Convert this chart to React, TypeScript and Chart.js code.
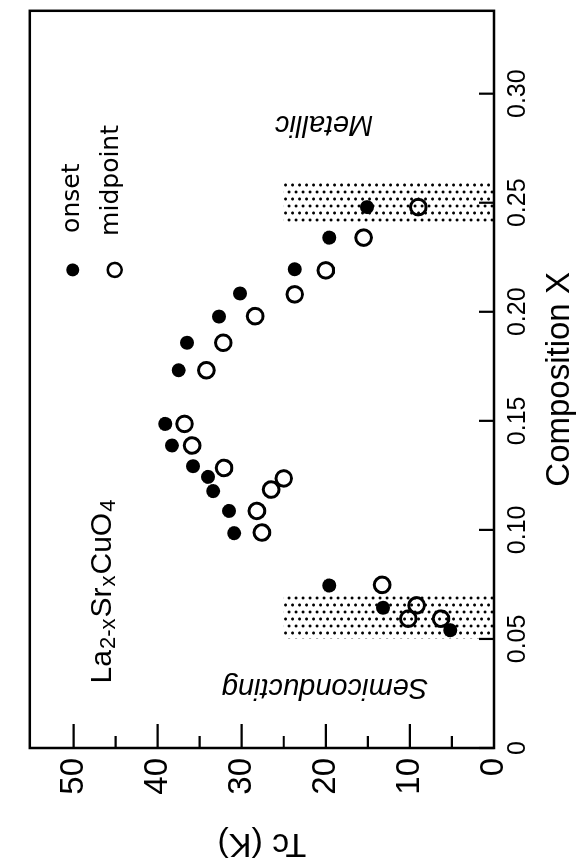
import React, { useEffect, useRef } from "react";
import { Chart, registerables } from "chart.js";

Chart.register(...registerables);

// Composition axis (x in the upright plot)
const COMP_TICKS = [0, 0.05, 0.1, 0.15, 0.2, 0.25, 0.3];
const COMP_TICK_LABELS = ["0", "0.05", "0.10", "0.15", "0.20", "0.25", "0.30"];
// Tc axis (y in the upright plot)
const TC_TICKS = [0, 10, 20, 30, 40, 50];
const TC_TICK_LABELS = ["0", "10", "20", "30", "40", "50"];
const TC_MINOR = [5, 15, 25, 35, 45];

// onset Tc
const ONSET_X = [0.248, 0.234, 0.2195, 0.2084, 0.1978, 0.1858, 0.1732, 0.1486, 0.1387, 0.1292, 0.1243, 0.1178, 0.1087, 0.0985, 0.0745, 0.0643, 0.054];
const ONSET_TC = [15.1, 19.6, 23.7, 30.2, 32.7, 36.5, 37.5, 39.1, 38.3, 35.8, 34.0, 33.4, 31.5, 30.9, 19.6, 13.2, 5.2];
// midpoint Tc
const MID_X = [0.248, 0.234, 0.219, 0.208, 0.198, 0.1858, 0.1732, 0.1486, 0.1387, 0.1284, 0.1236, 0.1185, 0.1087, 0.0988, 0.0748, 0.0654, 0.0593, 0.0593];
const MID_TC = [9.0, 15.5, 20.0, 23.7, 28.4, 32.2, 34.2, 36.8, 35.9, 32.1, 25.0, 26.5, 28.2, 27.6, 13.3, 9.2, 10.2, 6.3];

// dotted (boundary) regions
const SHADE_FROM = [0.05, 0.24];
const SHADE_TO = [0.07, 0.26];
const SHADE_TC = [25, 25];

const FONT = "'Liberation Sans', Arial, sans-serif";
const LEGEND_FONT = "'DejaVu Sans', sans-serif";

function makePattern(ctx: CanvasRenderingContext2D) {
  const c = document.createElement("canvas");
  c.width = 14;
  c.height = 7;
  const p = c.getContext("2d")!;
  p.fillStyle = "#000";
  p.beginPath();
  p.arc(2, 2, 1.5, 0, Math.PI * 2);
  p.fill();
  p.beginPath();
  p.arc(9, 5.5, 1.5, 0, Math.PI * 2);
  p.fill();
  return ctx.createPattern(c, "repeat")!;
}

const decorPlugin = {
  id: "decor",
  beforeDatasetsDraw(chart: any) {
    const { ctx, scales } = chart;
    const x = scales.x;
    const y = scales.y;
    ctx.save();
    ctx.fillStyle = makePattern(ctx);
    for (let i = 0; i < SHADE_FROM.length; i++) {
      const x0 = x.getPixelForValue(SHADE_FROM[i]);
      const x1 = x.getPixelForValue(SHADE_TO[i]);
      const y0 = y.getPixelForValue(SHADE_TC[i]);
      const y1 = y.getPixelForValue(0);
      ctx.fillRect(x0, y0, x1 - x0, y1 - y0);
    }
    ctx.restore();
  },
  afterDatasetsDraw(chart: any) {
    const { ctx, chartArea, scales } = chart;
    const x = scales.x;
    const y = scales.y;
    ctx.save();
    ctx.strokeStyle = "#000";
    ctx.lineWidth = 2.5;
    ctx.strokeRect(chartArea.left, chartArea.top, chartArea.right - chartArea.left, chartArea.bottom - chartArea.top);
    ctx.lineWidth = 2.2;
    ctx.beginPath();
    for (const v of TC_TICKS) {
      const py = y.getPixelForValue(v);
      ctx.moveTo(chartArea.left, py);
      ctx.lineTo(chartArea.left + 24, py);
    }
    for (const v of TC_MINOR) {
      const py = y.getPixelForValue(v);
      ctx.moveTo(chartArea.left, py);
      ctx.lineTo(chartArea.left + 12, py);
    }
    for (const v of COMP_TICKS) {
      const px = x.getPixelForValue(v);
      ctx.moveTo(px, chartArea.bottom);
      ctx.lineTo(px, chartArea.bottom - 15);
    }
    ctx.stroke();

    ctx.fillStyle = "#000";
    // legend
    const lx = x.getPixelForValue(0.2192);
    const ly1 = y.getPixelForValue(50.1);
    const ly2 = y.getPixelForValue(45.1);
    ctx.beginPath();
    ctx.arc(lx, ly1, 6.5, 0, Math.PI * 2);
    ctx.fill();
    ctx.beginPath();
    ctx.lineWidth = 2.6;
    ctx.arc(lx, ly2, 7, 0, Math.PI * 2);
    ctx.stroke();
    ctx.font = `25px ${LEGEND_FONT}`;
    ctx.textAlign = "left";
    ctx.textBaseline = "alphabetic";
    ctx.fillText("onset", lx + 37, ly1 + 6);
    ctx.fillText("midpoint", lx + 34, ly2 + 3);

    // formula
    const segs: [string, boolean][] = [["La", false], ["2-x", true], ["Sr", false], ["x", true], ["CuO", false], ["4", true]];
    let fx = x.getPixelForValue(0.0296);
    const fy = y.getPixelForValue(45.6);
    for (const [t, sub] of segs) {
      ctx.font = sub ? `22px ${FONT}` : `30px ${FONT}`;
      ctx.fillText(t, fx, fy + (sub ? 4 : 0));
      fx += ctx.measureText(t).width + 1;
    }

    // region labels (vertical)
    const vlabel = (text: string, cx: number, cy: number) => {
      ctx.save();
      ctx.translate(cx, cy);
      ctx.rotate(-Math.PI / 2);
      ctx.font = `italic 29px ${FONT}`;
      ctx.textAlign = "center";
      ctx.textBaseline = "middle";
      ctx.fillText(text, 0, 0);
      ctx.restore();
    };
    vlabel("Metallic", x.getPixelForValue(0.286), y.getPixelForValue(20.2));
    vlabel("Semiconducting", x.getPixelForValue(0.028), y.getPixelForValue(20.1));
    ctx.restore();
  },
};

export default function App() {
  const ref = useRef<HTMLCanvasElement | null>(null);
  useEffect(() => {
    const canvas = ref.current!;
    const chart = new Chart(canvas, {
      type: "scatter",
      data: {
        datasets: [
          {
            label: "onset",
            data: ONSET_X.map((c, i) => ({ x: c, y: ONSET_TC[i] })),
            pointRadius: 7,
            pointBackgroundColor: "#000",
            pointBorderColor: "#000",
            pointBorderWidth: 0,
            showLine: false,
          },
          {
            label: "midpoint",
            data: MID_X.map((c, i) => ({ x: c, y: MID_TC[i] })),
            pointRadius: 7.8,
            pointBackgroundColor: "rgba(0,0,0,0)",
            pointBorderColor: "#000",
            pointBorderWidth: 3,
            showLine: false,
          },
        ],
      },
      options: {
        responsive: false,
        animation: false,
        devicePixelRatio: 1,
        layout: { padding: { top: 21, right: 4, left: 0, bottom: 0 } },
        plugins: { legend: { display: false }, tooltip: { enabled: false } },
        scales: {
          x: {
            type: "linear",
            position: "bottom",
            min: 0,
            max: 0.338,
            afterBuildTicks: (s: any) => {
              s.ticks = COMP_TICKS.map((v) => ({ value: v }));
            },
            afterFit: (s: any) => {
              s.height = 90;
            },
            grid: { display: false, drawTicks: false },
            border: { display: false },
            ticks: {
              padding: 9,
              color: "#000",
              autoSkip: false,
              maxRotation: 0,
              minRotation: 0,
              font: { family: FONT, size: 25 },
              callback: (v: any) => COMP_TICK_LABELS[COMP_TICKS.findIndex((t) => Math.abs(t - v) < 1e-9)],
            },
            title: {
              display: true,
              text: "Composition X",
              color: "#000",
              font: { family: FONT, size: 33 },
              padding: { top: 0, bottom: 4 },
            },
          },
          y: {
            type: "linear",
            position: "left",
            min: 0,
            max: 55.2,
            afterBuildTicks: (s: any) => {
              s.ticks = TC_TICKS.map((v) => ({ value: v }));
            },
            afterFit: (s: any) => {
              s.width = 118;
            },
            grid: { display: false, drawTicks: false },
            border: { display: false },
            ticks: {
              padding: 10,
              color: "#000",
              autoSkip: false,
              font: { family: FONT, size: 33 },
              callback: (v: any) => TC_TICK_LABELS[TC_TICKS.indexOf(Math.round(v))],
            },
            title: {
              display: true,
              text: "Tc (K)",
              color: "#000",
              font: { family: FONT, size: 34 },
              padding: { top: 2, bottom: 0 },
            },
          },
        },
      },
      plugins: [decorPlugin],
    } as any);
    return () => chart.destroy();
  }, []);

  return (
    <div
      style={{
        position: "fixed",
        left: 0,
        top: 0,
        width: 866,
        height: 584,
        transformOrigin: "0 0",
        transform: "translate(0px, 866px) rotate(-90deg)",
        background: "#fff",
      }}
    >
      <canvas ref={ref} width={866} height={584} style={{ display: "block", width: 866, height: 584 }} />
    </div>
  );
}
